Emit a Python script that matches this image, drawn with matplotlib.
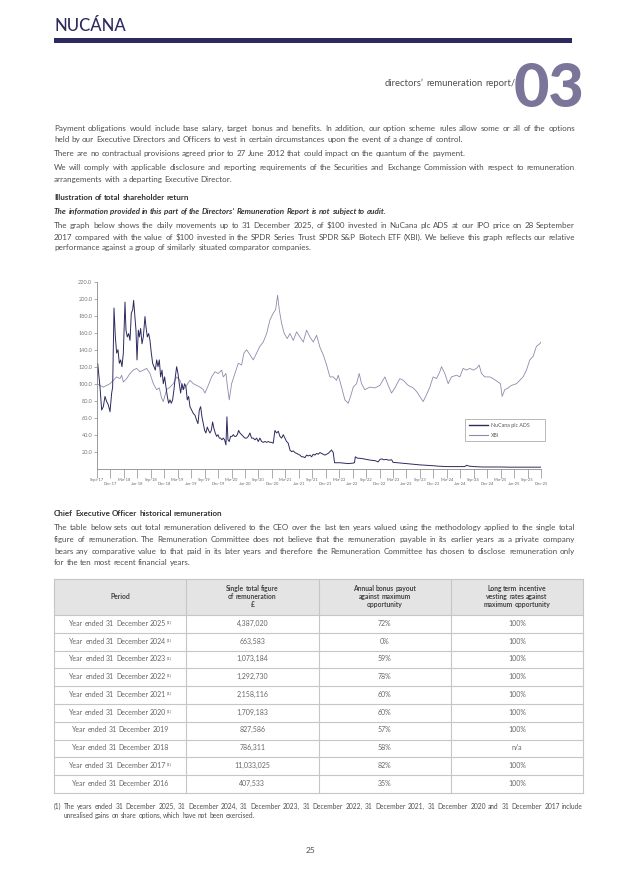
import math
import matplotlib
matplotlib.use('Agg')
import matplotlib.pyplot as plt
from matplotlib.lines import Line2D
from matplotlib.patches import Rectangle
from matplotlib.font_manager import FontProperties
from matplotlib.backends.backend_agg import get_hinting_flag

plt.rcParams['font.family'] = ['Lato', 'DejaVu Sans']

# --- chart data (months after end of Sep-2017, value of $100) ---
nucana_month = [0.0, 0.15, 0.30, 0.67, 1.04, 1.41, 1.78, 2.15, 2.53, 2.90, 3.27, 3.49, 3.79, 4.09, 4.38, 4.68,
                4.98, 5.27, 5.57, 5.87, 6.24, 6.46, 6.76, 7.06, 7.36, 7.65, 7.95, 8.17, 8.40, 8.69, 8.92, 9.21,
                9.44, 9.73, 10.03, 10.33, 10.70, 10.92, 11.22, 11.52, 11.81, 12.11, 12.41, 12.70, 13.00, 13.30,
                13.60, 13.89, 14.19, 14.49, 14.78, 15.08, 15.38, 15.68, 15.97, 16.27, 16.57, 16.86, 17.16, 17.46,
                17.76, 18.05, 18.35, 18.65, 18.95, 19.24, 19.54, 19.84, 20.13, 20.43, 20.73, 21.10, 21.47, 21.84,
                22.21, 22.51, 22.81, 23.11, 23.40, 23.70, 24.00, 24.29, 24.59, 24.89, 25.19, 25.48, 25.78, 26.08,
                26.37, 26.67, 26.97, 27.27, 27.56, 27.86, 28.16, 28.45, 28.75, 28.97, 29.20, 29.49, 29.79, 30.09,
                30.39, 30.68, 30.98, 31.28, 31.58, 31.87, 32.24, 32.61, 32.99, 33.36, 33.73, 34.10, 34.47, 34.84,
                35.22, 35.59, 35.96, 36.33, 36.70, 37.07, 37.44, 37.82, 38.19, 38.56, 38.93, 39.30, 39.67, 40.04,
                40.42, 40.79, 41.16, 41.53, 41.90, 42.27, 42.64, 43.02, 43.39, 43.76, 44.13, 44.50, 44.87, 45.25,
                45.62, 45.99, 46.36, 46.73, 47.10, 47.47, 47.85, 48.22, 48.59, 48.96, 49.33, 49.70, 50.07, 50.45,
                50.82, 51.19, 51.56, 51.93, 52.30, 52.67, 52.97, 53.42, 54.2, 55.0, 56.0, 57.0, 57.4, 57.6, 58.0,
                59.0, 60.0, 61.0, 62.0, 62.7, 63.1, 63.5, 64.0, 64.5, 65.0, 65.7, 66.0, 67.0, 68.0, 69.0, 70.0,
                71.0, 72.0, 73.5, 75.0, 76.0, 78.0, 80.0, 82.0, 82.4, 83.0, 84.0, 86.0, 88.0, 90.0, 92.0, 94.0,
                96.0, 99.0]
nucana_value = [100, 124, 116, 96, 69, 73, 85, 79, 75, 67, 89, 96, 189, 155, 136, 140,
                124, 128, 120, 136, 196, 163, 155, 159, 151, 183, 187, 198, 183, 163, 128, 163,
                155, 165, 147, 155, 179, 167, 155, 159, 151, 136, 124, 120, 116, 128,
                120, 128, 108, 116, 100, 108, 96, 85, 77, 81, 77, 81, 93, 108,
                120, 112, 100, 89, 100, 93, 100, 96, 81, 85, 73, 69, 65, 63,
                57, 53, 69, 73, 61, 53, 45, 42, 49, 45, 42, 45, 55, 47,
                42, 38, 40, 36, 36, 34, 36, 34, 28, 61, 34, 32, 38, 38,
                40, 38, 38, 40, 45, 42, 40, 38, 36, 36, 38, 42, 36, 36,
                34, 36, 32, 36, 32, 31, 32, 31, 32, 31, 31, 30, 45, 42,
                44, 38, 36, 40, 36, 32, 30, 22, 20, 21, 19, 18, 17, 16,
                14, 14, 13, 16, 15, 16, 14, 17, 16, 18, 17, 19, 18, 17,
                16, 17, 18, 20, 22, 19, 7, 7, 7, 6.5, 6, 6.5, 7, 14, 12.5,
                12, 11, 10, 9.5, 8, 11, 11.5, 10.5, 11, 10, 10.5, 7.5, 7, 6.5, 6, 5.5,
                5, 4.5, 4, 3.5, 3, 2.5, 2.5, 2.5, 4, 3, 2.5, 2, 2, 2, 1.8, 1.8,
                1.8, 1.8]

xbi_month = [0, 0.67, 1.41, 2.15, 2.90, 3.64, 4.38, 5.13, 5.50, 5.87, 6.61, 7.36, 8.10, 8.84, 9.58, 10.33,
             11.07, 11.81, 12.56, 13.30, 13.89, 14.41, 14.78, 15.53, 16.27, 17.01, 17.76, 18.50, 19.24, 19.99,
             20.73, 21.47, 22.21, 22.96, 23.70, 24.07, 24.81, 25.56, 26.30, 27.04, 27.79, 28.16, 28.75, 29.05,
             29.49, 30.01, 30.76, 31.50, 32.24, 32.76, 33.36, 34.10, 34.84, 35.59, 36.33, 37.07, 37.82, 38.56,
             39.30, 39.82, 40.27, 40.64, 41.16, 41.75, 42.42, 43.02, 43.76, 44.50, 45.25, 45.99, 46.73, 47.47,
             48.22, 48.96, 49.70, 50.45, 51.19, 51.93, 52.67, 53.41, 53.79, 54.53, 55.27, 56.02, 56.54, 57.13,
             57.87, 58.47, 58.98, 59.73, 60.84, 61.96, 63.07, 64.19, 64.93, 65.67, 66.41, 67.53, 68.27, 69.39,
             70.50, 71.24, 71.98, 72.73, 73.47, 74.21, 74.95, 75.70, 76.44, 76.81, 77.56, 78.30, 79.04, 80.16,
             80.90, 81.64, 82.39, 83.13, 83.87, 84.61, 85.21, 85.73, 86.47, 87.59, 88.33, 89.44, 89.96, 90.33,
             90.93, 91.67, 92.41, 93.53, 94.27, 95.01, 95.76, 96.50, 97.24, 97.98, 98.72, 99.0]
xbi_value = [100, 98, 96, 98, 100, 104, 108, 106, 110, 102, 106, 112, 116, 118, 114, 116,
             118, 112, 100, 93, 95, 83, 79, 93, 96, 100, 108, 104, 93, 98,
             104, 100, 98, 96, 93, 89, 98, 108, 114, 112, 116, 108, 112, 98,
             81, 100, 112, 124, 122, 136, 140, 134, 128, 136, 144, 149, 159, 175,
             183, 187, 204, 187, 171, 159, 153, 159, 151, 161, 155, 149, 163, 155,
             149, 157, 143, 134, 122, 108, 108, 104, 110, 96, 81, 77, 85, 96,
             100, 112, 100, 93, 96, 95, 98, 108, 98, 89, 95, 106, 104, 98,
             95, 91, 85, 79, 87, 96, 108, 106, 114, 120, 112, 100, 108, 110,
             108, 118, 116, 118, 116, 118, 122, 112, 108, 108, 106, 102, 100, 85,
             93, 95, 98, 100, 104, 108, 116, 128, 132, 144, 147, 149]

upper_labels = ['Sept-17', 'Mar-18', 'Sep-18', 'Mar-19', 'Sep-19', 'Mar-20', 'Sep-20', 'Mar-21', 'Sep-21',
                'Mar-22', 'Sep-22', 'Mar-23', 'Sep-23', 'Mar-24', 'Sep-24', 'Mar-25', 'Sep-25']
lower_labels = ['Dec-17', 'Jun-18', 'Dec-18', 'Jun-19', 'Dec-19', 'Jun-20', 'Dec-20', 'Jun-21', 'Dec-21',
                'Jun-22', 'Dec-22', 'Jun-23', 'Dec-23', 'Jun-24', 'Dec-24', 'Jun-25', 'Dec-25']
y_ticks = [20, 40, 60, 80, 100, 120, 140, 160, 180, 200, 220]

# --- table data ---
periods = ['Year ended 31 December 2025', 'Year ended 31 December 2024', 'Year ended 31 December 2023',
           'Year ended 31 December 2022', 'Year ended 31 December 2021', 'Year ended 31 December 2020',
           'Year ended 31 December 2019', 'Year ended 31 December 2018', 'Year ended 31 December 2017',
           'Year ended 31 December 2016']
footnoted = [True, True, True, True, True, True, False, False, True, False]
single_total = ['4,387,020', '663,583', '1,073,184', '1,292,730', '2,158,116', '1,709,183', '827,586',
                '786,311', '11,033,025', '407,533']
bonus_payout = ['72%', '0%', '59%', '78%', '60%', '60%', '57%', '58%', '82%', '35%']
lti_vesting = ['100%', '100%', '100%', '100%', '100%', '100%', '100%', 'n/a', '100%', '100%']
headers = [['Period'], ['Single total figure', 'of remuneration', '£'],
           ['Annual bonus payout', 'against maximum', 'opportunity'],
           ['Long term incentive', 'vesting rates against', 'maximum opportunity']]

# --- page text (text, baseline y, justified) ---
intro = [
    ('Payment obligations would include base salary, target bonus and benefits. In addition, our option scheme rules allow some or all of the options', 131, True),
    ('held by our Executive Directors and Officers to vest in certain circumstances upon the event of a change of control.', 142.5, False),
    ('There are no contractual provisions agreed prior to 27 June 2012 that could impact on the quantum of the payment.', 156.5, False),
    ('We will comply with applicable disclosure and reporting requirements of the Securities and Exchange Commission with respect to remuneration', 170.5, True),
    ('arrangements with a departing Executive Director.', 181.5, False),
]
graph_text = [
    ('The graph below shows the daily movements up to 31 December 2025, of $100 invested in NuCana plc ADS at our IPO price on 28 September', 228.5, True),
    ('2017 compared with the value of $100 invested in the SPDR Series Trust SPDR S&P Biotech ETF (XBI). We believe this graph reflects our relative', 239.5, True),
    ('performance against a group of similarly situated comparator companies.', 250.5, False),
]
ceo_text = [
    ('The table below sets out total remuneration delivered to the CEO over the last ten years valued using the methodology applied to the single total', 530.5, True),
    ('figure of remuneration. The Remuneration Committee does not believe that the remuneration payable in its earlier years as a private company', 542, True),
    ('bears any comparative value to that paid in its later years and therefore the Remuneration Committee has chosen to disclose remuneration only', 553.5, True),
    ('for the ten most recent financial years.', 565, False),
]

NAVY = '#2c2a5e'
XBI_COL = '#8e8aae'
TEXT = '#4e4e4e'
DARK = '#333333'

W, H = 622, 880
fig = plt.figure(figsize=(W / 100, H / 100), dpi=100)
page = fig.add_axes([0, 0, 1, 1])
page.set_xlim(0, W)
page.set_ylim(H, 0)
page.axis('off')
R = fig.canvas.get_renderer()

LEFT, RIGHT = 54, 575


def text_width(s, **kw):
    t = page.text(0, 0, s, **kw)
    w = t.get_window_extent(renderer=R).width
    t.remove()
    return w


def snapped(word, y, **kw):
    # shift the baseline a fraction of a pixel so that every word lands on the same pixel row
    try:
        fp = FontProperties(family=plt.rcParams['font.family'], size=kw.get('fontsize', 6),
                            weight=kw.get('fontweight', 'normal'), style=kw.get('fontstyle', 'normal'))
        font = R._prepare_font(fp)
        font.set_text(word, 0, flags=get_hinting_flag())
        d = font.get_descent() / 64
        a = font.get_width_height()[1] / 64 - d
        return round(y) + math.floor(a + d) - math.floor(a) - d
    except Exception:
        return y


def words(x, y, text, ha='left', x1=None, **kw):
    # lays a line out word by word; x1 given -> justified between x and x1
    kw.setdefault('color', TEXT)
    ws = text.split(' ')
    widths = [text_width(w, **kw) for w in ws]
    if len(ws) > 1:
        span = (x1 - x) if x1 is not None else text_width(text, **kw)
        gap = (span - sum(widths)) / (len(ws) - 1)
    else:
        gap = 0
    total = sum(widths) + gap * (len(ws) - 1)
    if ha == 'center':
        x -= total / 2
    elif ha == 'right':
        x -= total
    for w, wd in zip(ws, widths):
        page.text(x, snapped(w, y, **kw), w, va='baseline', ha='left', **kw)
        x += wd + gap
    return x - gap


# body font size: largest that still lets every justified line fit
all_just = [t for t, _, j in intro + graph_text + ceo_text if j]
BODY = 6.0 * min((RIGHT - LEFT) / text_width(t, fontsize=6.0) for t in all_just) * 0.99


def paragraph(lines, **kw):
    for txt, y, j in lines:
        words(LEFT, y, txt, x1=RIGHT if j else None, fontsize=BODY, **kw)


# header
page.text(LEFT, 31, 'NUCÁNA', fontsize=12, color=NAVY, fontweight='medium', va='baseline')
page.add_patch(Rectangle((LEFT, 38), 572 - LEFT, 5, color=NAVY, lw=0))
page.text(584, 107, '03', fontsize=44, fontweight='black', color='#7b7599', ha='right', va='baseline')
words(515, 86, 'directors’ remuneration report/', ha='right', fontsize=6.8)

paragraph(intro)
words(LEFT, 200, 'Illustration of total shareholder return', color=DARK, fontweight='bold', fontsize=BODY)
words(LEFT, 214.5, 'The information provided in this part of the Directors’ Remuneration Report is not subject to audit.',
      color=DARK, fontweight='bold', fontstyle='italic', fontsize=BODY)
paragraph(graph_text)

# chart
ax = fig.add_axes([97 / W, 1 - 468.7 / H, 444 / W, 187 / H])
ax.set_facecolor('none')
ax.plot(xbi_month, xbi_value, color=XBI_COL, lw=0.6)
ax.plot(nucana_month, nucana_value, color=NAVY, lw=0.7)
ax.set_xlim(0, 99)
ax.set_ylim(0, 220)
for s in ('top', 'right'):
    ax.spines[s].set_visible(False)
for s in ('left', 'bottom'):
    ax.spines[s].set_color('#8a8a8a')
    ax.spines[s].set_linewidth(0.6)
ax.set_yticks(y_ticks, [f'{v:.1f}' for v in y_ticks])
ax.set_xticks(range(0, 99, 6), upper_labels)
ax.set_xticks(range(3, 100, 6), lower_labels, minor=True)
ax.tick_params(axis='y', length=2, width=0.5, color='#8a8a8a', labelsize=4, labelcolor='#777777', pad=1.5)
ax.tick_params(axis='x', which='both', length=6.5, width=0.5, color='#8a8a8a', labelsize=2.9,
               labelcolor='#666666')
ax.tick_params(axis='x', which='major', pad=0)
ax.tick_params(axis='x', which='minor', pad=2.8)
handles = [Line2D([], [], color=NAVY, lw=1.0), Line2D([], [], color=XBI_COL, lw=0.8)]
leg = ax.legend(handles, ['NuCana plc ADS', 'XBI'], loc='lower left', bbox_to_anchor=(0.824, 0.132, 0.19, 0.118),
                mode='expand', fontsize=3.8, frameon=True, fancybox=False, handlelength=3.6, handletextpad=0.6,
                borderpad=0.7, labelspacing=0.9, labelcolor='#555555')
leg.get_frame().set_edgecolor('#999999')
leg.get_frame().set_linewidth(0.6)

# CEO section
words(LEFT, 515.5, 'Chief Executive Officer historical remuneration', color=DARK, fontweight='bold', fontsize=BODY)
paragraph(ceo_text)

# table
T_LEFT, T_RIGHT, T_TOP, HEAD_H, ROW_H = 54, 583, 579.5, 35.5, 17.8
col_w = (T_RIGHT - T_LEFT) / 4
n_rows = len(periods)
t_bottom = T_TOP + HEAD_H + ROW_H * n_rows
page.add_patch(Rectangle((T_LEFT, T_TOP), T_RIGHT - T_LEFT, HEAD_H, color='#e4e4e4', lw=0))
LINE = '#c6c6c6'
for i in range(5):
    x = T_LEFT + i * col_w
    page.plot([x, x], [T_TOP, t_bottom], color=LINE, lw=0.8)
page.plot([T_LEFT, T_RIGHT], [T_TOP, T_TOP], color=LINE, lw=0.8)
for r in range(n_rows + 1):
    y = T_TOP + HEAD_H + r * ROW_H
    page.plot([T_LEFT, T_RIGHT], [y, y], color=LINE, lw=0.8)
head_mid = T_TOP + HEAD_H / 2
for c, lines in enumerate(headers):
    for k, line in enumerate(lines):
        yb = head_mid + (k - (len(lines) - 1) / 2) * 7.7 + 1.7
        words(T_LEFT + (c + 0.5) * col_w, yb, line, ha='center', fontsize=4.9, fontweight='bold', color='#444444')
SUP = '(1)'
for r in range(n_rows):
    yb = T_TOP + HEAD_H + (r + 0.5) * ROW_H + 1.8
    cx = T_LEFT + 0.5 * col_w
    if footnoted[r]:
        sw = text_width(SUP, fontsize=3.2)
        end = words(cx - sw / 2, yb, periods[r], ha='center', fontsize=5.0, color='#666666')
        page.text(end + 0.4, yb - 2.2, SUP, fontsize=3.2, color='#666666', va='baseline', ha='left')
    else:
        words(cx, yb, periods[r], ha='center', fontsize=5.0, color='#666666')
    for c, v in enumerate([single_total[r], bonus_payout[r], lti_vesting[r]], start=1):
        words(T_LEFT + (c + 0.5) * col_w, yb, v, ha='center', fontsize=5.0, color='#666666')

# footnote and page number
words(LEFT, 809, '(1) The years ended 31 December 2025, 31 December 2024, 31 December 2023, 31 December 2022, 31 December 2021, 31 December 2020 and 31 December 2017 include',
      x1=583, fontsize=4.8)
words(63.5, 817.5, 'unrealised gains on share options, which have not been exercised.', fontsize=4.8)
page.text(W / 2, 853, '25', ha='center', va='baseline', fontsize=6, color=TEXT)

fig.savefig('out.png', dpi=100)
